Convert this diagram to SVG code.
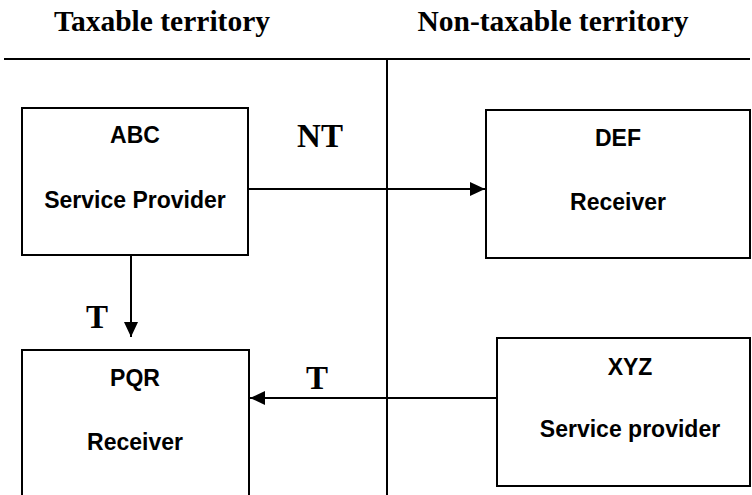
<svg xmlns="http://www.w3.org/2000/svg" width="752" height="495" viewBox="0 0 752 495">
<style>
.box{fill:#fff;stroke:#000;stroke-width:2}
.line{stroke:#000;stroke-width:2;fill:none}
.lbl{font-family:"Liberation Sans",Arial,sans-serif;font-weight:bold;font-size:23px;text-anchor:middle;fill:#000}
.hdr{font-family:"Liberation Serif","Times New Roman",serif;font-weight:bold;font-size:29.5px;text-anchor:middle;fill:#000}
.tag{font-family:"Liberation Serif","Times New Roman",serif;font-weight:bold;font-size:33px;text-anchor:middle;fill:#000}
</style>
<defs>
<marker id="arr" markerUnits="userSpaceOnUse" markerWidth="15" markerHeight="14" refX="15" refY="7" orient="auto">
<path d="M0,0 L15,7 L0,14 z" fill="#000"/>
</marker>
</defs>
<rect width="752" height="495" fill="#fff"/>
<g id="dividers">
<line class="line" x1="4" y1="59" x2="750" y2="59"/>
<line class="line" x1="387" y1="59" x2="387" y2="495"/>
<text class="hdr" x="162" y="31">Taxable territory</text>
<text class="hdr" x="553" y="31">Non-taxable territory</text>
</g>
<g id="abc">
<rect class="box" x="22" y="108" width="226" height="147"/>
<text class="lbl" x="135" y="143">ABC</text>
<text class="lbl" x="135" y="208">Service Provider</text>
</g>
<g id="def">
<rect class="box" x="486" y="110" width="264" height="148"/>
<text class="lbl" x="618" y="146">DEF</text>
<text class="lbl" x="618" y="210">Receiver</text>
</g>
<g id="pqr">
<path class="box" d="M22,497 V350 H249 V497"/>
<text class="lbl" x="135" y="386">PQR</text>
<text class="lbl" x="135" y="450">Receiver</text>
</g>
<g id="xyz">
<rect class="box" x="497" y="338" width="253" height="148"/>
<text class="lbl" x="630" y="375">XYZ</text>
<text class="lbl" x="630" y="437">Service provider</text>
</g>
<g id="connectors">
<line class="line" x1="248" y1="189" x2="485" y2="189" marker-end="url(#arr)"/>
<line class="line" x1="131" y1="255" x2="131" y2="337" marker-end="url(#arr)"/>
<line class="line" x1="497" y1="398" x2="250" y2="398" marker-end="url(#arr)"/>
<text class="tag" x="320" y="147">NT</text>
<text class="tag" x="97" y="328">T</text>
<text class="tag" x="317" y="389">T</text>
</g>
</svg>
